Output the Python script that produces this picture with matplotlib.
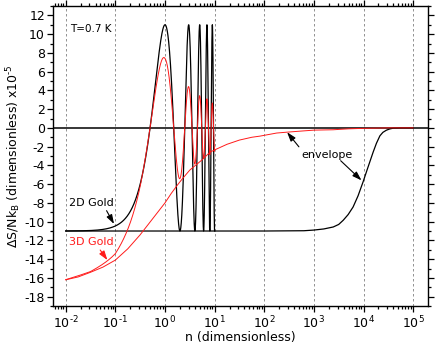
import numpy as np
import matplotlib.pyplot as plt
from matplotlib.ticker import MultipleLocator

plt.rcParams['font.family'] = ['DejaVu Sans']
plt.rcParams['mathtext.default'] = 'regular'
plt.rcParams['axes.unicode_minus'] = False

# values
temp_label = 'T=0.7 K'
amp_2d = 11.0                      # 2D Gold oscillation amplitude (x1e-5)
xtick_exps = [-2, -1, 0, 1, 2, 3, 4, 5]
xtick_labels = [r'$10^{\text{-}2}$', r'$10^{\text{-}1}$', r'$10^{0}$', r'$10^{1}$',
                r'$10^{2}$', r'$10^{3}$', r'$10^{4}$', r'$10^{5}$']

# 3D Gold oscillation amplitude vs log10(n)
amp3d_logn = [-2.0, -1.5, -1.0, -0.5, -0.25, 0.0, 0.301, 0.477, 0.699, 0.845, 0.954, 1.0]
amp3d_val = [16.2, 15.4, 14.1, 11.4, 9.6, 7.4, 5.4, 4.4, 3.44, 3.1, 2.66, 2.5]

# 3D Gold envelope (red), log10(n) -> value
env3d_logn = [-2.0, -1.75, -1.5, -1.25, -1.0, -0.75, -0.5, -0.25, 0.0, 0.125, 0.25, 0.35,
              0.5, 0.75, 0.906, 1.0, 1.25, 1.5, 1.75, 1.912, 2.25, 2.45, 2.72, 3.0,
              3.39, 3.7, 4.0, 4.5, 5.0]
env3d_val = [-16.2, -15.9, -15.4, -14.85, -14.1, -12.9, -11.4, -9.7, -8.0, -7.0, -6.1, -5.43,
             -4.5, -3.4, -2.59, -2.35, -1.75, -1.3, -1.0, -0.88, -0.55, -0.46, -0.35, -0.24,
             -0.2, -0.1, -0.05, 0.0, 0.0]

# 2D Gold envelope (black), log10(n) -> value
env2d_logn = [-2.0, 1.0, 2.0, 2.8, 3.0, 3.2, 3.39, 3.5, 3.59, 3.69, 3.79, 3.89, 3.99, 4.09,
              4.194, 4.26, 4.33, 4.39, 4.46, 4.53, 4.6, 4.75, 5.0]
env2d_val = [-11.0, -11.0, -11.0, -10.97, -10.9, -10.78, -10.57, -10.3, -9.86, -9.25, -8.44,
             -7.25, -5.78, -4.2, -2.59, -1.65, -0.85, -0.48, -0.25, -0.11, -0.03, 0.0, 0.0]

# oscillating curves
n = np.logspace(-2, 1, 4000)
osc_2d = -amp_2d * np.cos(np.pi * n)
osc_3d = -np.interp(np.log10(n), amp3d_logn, amp3d_val) * np.cos(np.pi * n)

fig = plt.figure(figsize=(4.36, 3.53), dpi=100)
ax = fig.add_axes([0.1223, 0.1331, 0.8594, 0.8499])

red = '#ff1a1a'
ax.axhline(0, color='black', lw=1.1, zorder=2)
ax.plot(10 ** np.array(env2d_logn), env2d_val, color='black', lw=0.9, zorder=3)
ax.plot(n, osc_2d, color='black', lw=0.9, zorder=3)
ax.plot(10 ** np.array(env3d_logn), env3d_val, color=red, lw=0.7, zorder=4)
ax.plot(n, osc_3d, color=red, lw=0.7, zorder=4)

ax.set_xscale('log')
xmin, xmax = 10 ** -2.25, 10 ** 5.3
minors = [m * 10.0 ** e for e in range(-3, 6) for m in range(2, 10)]
ax.set_xticks([t for t in minors if xmin <= t <= xmax], minor=True)
ax.set_xticks(10.0 ** np.array(xtick_exps))
ax.set_xticklabels(xtick_labels)
ax.set_xticklabels([], minor=True)
ax.set_xlim(xmin, xmax)
ax.set_ylim(-19, 13)
ax.set_yticks(np.arange(-18, 13, 2))
ax.yaxis.set_minor_locator(MultipleLocator(1))
ax.tick_params(which='both', direction='out', top=True, right=True, labelsize=9, width=0.9)
ax.tick_params(which='major', length=4, pad=2)
ax.tick_params(which='minor', length=2)
for s in ax.spines.values():
    s.set_linewidth(1.0)

ax.grid(True, which='major', axis='x', ls=(0, (3, 3)), color='gray', lw=0.6)

ax.set_xlabel('n (dimensionless)', fontsize=9, labelpad=0)
ax.set_ylabel(r'$\Delta$S/Nk$_B$ (dimensionless) x10$^{\text{-}5}$', fontsize=9, labelpad=1)

ax.text(10 ** -1.92, 10.6, temp_label, fontsize=7.5, va='center', ha='left')

arrow = '-|>,head_length=0.55,head_width=0.18'
ax.annotate('2D Gold', xy=(10 ** -1.027, -10.25), xytext=(10 ** -1.93, -8.0),
            fontsize=8, color='black', va='center', ha='left',
            arrowprops=dict(arrowstyle=arrow, color='black', lw=0.8, mutation_scale=10,
                            shrinkA=0, shrinkB=0, relpos=(0.8, 0.0)))
ax.annotate('3D Gold', xy=(10 ** -1.16, -14.1), xytext=(10 ** -1.93, -12.2),
            fontsize=8, color=red, va='center', ha='left',
            arrowprops=dict(arrowstyle=arrow, color=red, lw=0.8, mutation_scale=10,
                            shrinkA=0, shrinkB=0, relpos=(0.65, 0.0)))
ax.annotate('envelope', xy=(10 ** 2.46, -0.46), xytext=(10 ** 3.26, -2.85),
            fontsize=8, color='black', va='center', ha='center',
            arrowprops=dict(arrowstyle=arrow, color='black', lw=0.8, mutation_scale=10,
                            shrinkA=0, shrinkB=0, relpos=(0.0, 1.0)))
ax.annotate('', xy=(10 ** 3.96, -5.6), xytext=(10 ** 3.54, -3.5),
            arrowprops=dict(arrowstyle=arrow, color='black', lw=0.8, mutation_scale=10,
                            shrinkA=0, shrinkB=0))

fig.savefig('out.png', dpi=100)
